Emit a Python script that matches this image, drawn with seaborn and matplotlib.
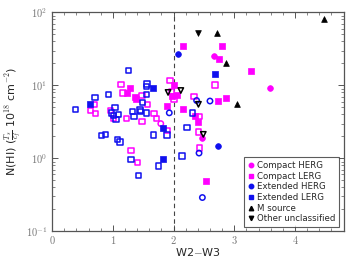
import numpy as np
import pandas as pd
import matplotlib
matplotlib.use("Agg")
import matplotlib.pyplot as plt
import seaborn as sns
from matplotlib.lines import Line2D

sns.set_style("ticks")
plt.rcParams['font.family'] = ['DejaVu Sans']
plt.rcParams['mathtext.fontset'] = 'cm'

# Compact HERG (magenta circles)
chg_f_x = [2.67, 3.59, 2.475]
chg_f_y = [25.0, 9.3, 1.89]
chg_o_x = [1.79]
chg_o_y = [2.99]
# Compact LERG (magenta squares)
clg_f_x = [2.15, 2.79, 2.75, 3.28, 2.056, 1.97, 2.01, 2.74, 2.86, 2.15, 2.35, 2.40, 2.53,
           1.28, 1.365, 1.38, 1.23, 1.89]
clg_f_y = [34.2, 35.0, 22.9, 15.6, 7.3, 7.1, 10.2, 6.2, 6.7, 4.7, 3.8, 3.14, 0.49,
           9.3, 6.9, 6.4, 7.8, 5.2]
clg_o_x = [2.68, 2.34, 2.42, 2.41, 2.43, 1.94, 1.97, 2.01, 1.135, 1.17, 1.48, 1.57, 1.68,
           1.72, 1.23, 1.48, 1.90, 1.30, 1.41, 0.696, 0.633, 0.712, 0.965, 1.008]
clg_o_y = [10.1, 7.0, 3.76, 2.29, 1.38, 11.7, 8.3, 6.4, 10.3, 7.9, 7.3, 5.5, 4.1,
           3.5, 3.5, 3.2, 2.42, 1.28, 0.88, 5.5, 4.5, 4.1, 4.5, 3.5]
# Extended HERG (blue circles)
ehg_f_x = [2.07, 2.725]
ehg_f_y = [26.6, 1.47]
ehg_o_x = [2.38, 2.60, 1.93, 2.42, 2.475]
ehg_o_y = [6.2, 6.1, 4.2, 1.18, 0.29]
# Extended LERG (blue squares)
elg_f_x = [2.69, 1.666, 0.62, 1.82, 1.82]
elg_f_y = [14.5, 9.2, 5.5, 2.6, 0.97]
elg_o_x = [1.263, 1.56, 1.55, 1.55, 0.93, 0.707, 0.386, 1.485, 1.447, 1.46, 1.557, 1.32,
           1.35, 1.036, 1.09, 1.008, 1.05, 0.98, 2.31, 2.22, 2.14, 0.81, 0.88, 1.074,
           1.118, 1.67, 1.89, 1.30, 1.42, 1.75]
elg_o_y = [15.9, 10.5, 9.7, 7.5, 7.5, 6.8, 4.7, 5.8, 4.6, 4.4, 4.2, 4.4,
           3.76, 5.0, 3.97, 3.9, 3.4, 4.2, 4.2, 2.66, 1.07, 2.07, 2.13, 1.80,
           1.68, 2.08, 2.08, 0.97, 0.58, 0.78]
# M source (black up triangles)
ms_x = [4.47, 2.71, 2.87, 3.05]
ms_y = [80.0, 53.0, 20.2, 5.5]
# Other unclassified (black down triangles)
ou_f_x = [2.40]
ou_f_y = [51.5]
ou_o_x = [2.12, 1.91, 2.41, 2.49]
ou_o_y = [8.5, 8.0, 5.5, 2.13]

MAG = '#ff00ff'
BLU = '#1010ee'
BLK = '#000000'

groups = [
    (chg_f_x, chg_f_y, 'o', MAG, True),
    (chg_o_x, chg_o_y, 'o', MAG, False),
    (clg_f_x, clg_f_y, 's', MAG, True),
    (clg_o_x, clg_o_y, 's', MAG, False),
    (ehg_f_x, ehg_f_y, 'o', BLU, True),
    (ehg_o_x, ehg_o_y, 'o', BLU, False),
    (elg_f_x, elg_f_y, 's', BLU, True),
    (elg_o_x, elg_o_y, 's', BLU, False),
    (ms_x, ms_y, '^', BLK, True),
    (ou_f_x, ou_f_y, 'v', BLK, True),
    (ou_o_x, ou_o_y, 'v', BLK, False),
]

fig = plt.figure(figsize=(3.52, 2.64), dpi=100)
ax = fig.add_axes([0.148, 0.124, 0.828, 0.829])

for gx, gy, m, c, filled in groups:
    df = pd.DataFrame({'x': gx, 'y': gy})
    if filled:
        sns.scatterplot(data=df, x='x', y='y', marker=m, s=17, color=c,
                        edgecolor=c, linewidth=0.5, ax=ax, legend=False, zorder=3)
    else:
        sns.scatterplot(data=df, x='x', y='y', marker=m, s=15, facecolor='none',
                        edgecolor=c, linewidth=1.1, ax=ax, legend=False, zorder=3)

ax.axvline(2.0, color='#444444', ls=(0, (4, 3)), lw=0.8, zorder=1)

ax.set_yscale('log')
ax.set_xlim(0, 4.8)
ax.set_ylim(0.1, 100)
ax.set_xticks([0, 1, 2, 3, 4])
ax.set_xticklabels(['$0$', '$1$', '$2$', '$3$', '$4$'])
ax.set_yticks([0.1, 1, 10, 100])
ax.set_yticklabels(['$10^{-1}$', '$10^{0}$', '$10^{1}$', '$10^{2}$'])
ax.xaxis.set_minor_locator(matplotlib.ticker.MultipleLocator(0.2))
ax.tick_params(which='both', direction='in', top=True, right=True, colors='#555555',
               labelsize=7.5, labelcolor='#777777')
ax.tick_params(which='major', length=4, width=0.7)
ax.tick_params(which='minor', length=2, width=0.5)
ax.tick_params(axis='x', which='both', pad=2)
for sp in ax.spines.values():
    sp.set_color('#555555')
    sp.set_linewidth(0.9)

ax.set_xlabel('W2$-$W3', fontsize=8, labelpad=0)
ax.set_ylabel(r'N(HI) ($\frac{T_s}{c_f}$ 10$^{18}$ cm$^{-2}$)', fontsize=8, labelpad=1)

handles = [
    Line2D([], [], ls='', marker='o', color=MAG, markersize=3.2, label='Compact HERG'),
    Line2D([], [], ls='', marker='s', color=MAG, markersize=3.2, label='Compact LERG'),
    Line2D([], [], ls='', marker='o', color=BLU, markersize=3.2, label='Extended HERG'),
    Line2D([], [], ls='', marker='s', color=BLU, markersize=3.2, label='Extended LERG'),
    Line2D([], [], ls='', marker='^', color=BLK, markersize=3.2, label='M source'),
    Line2D([], [], ls='', marker='v', color=BLK, markersize=3.2, label='Other unclassified'),
]
leg = ax.legend(handles=handles, loc='lower right', fontsize=6.2, frameon=True,
                fancybox=False, edgecolor='#333333', handletextpad=0.2,
                borderpad=0.45, labelspacing=0.2, handlelength=0.9,
                borderaxespad=0, bbox_to_anchor=(0.985, 0.018))
leg.get_frame().set_linewidth(0.8)

fig.savefig('out.png', dpi=100)
